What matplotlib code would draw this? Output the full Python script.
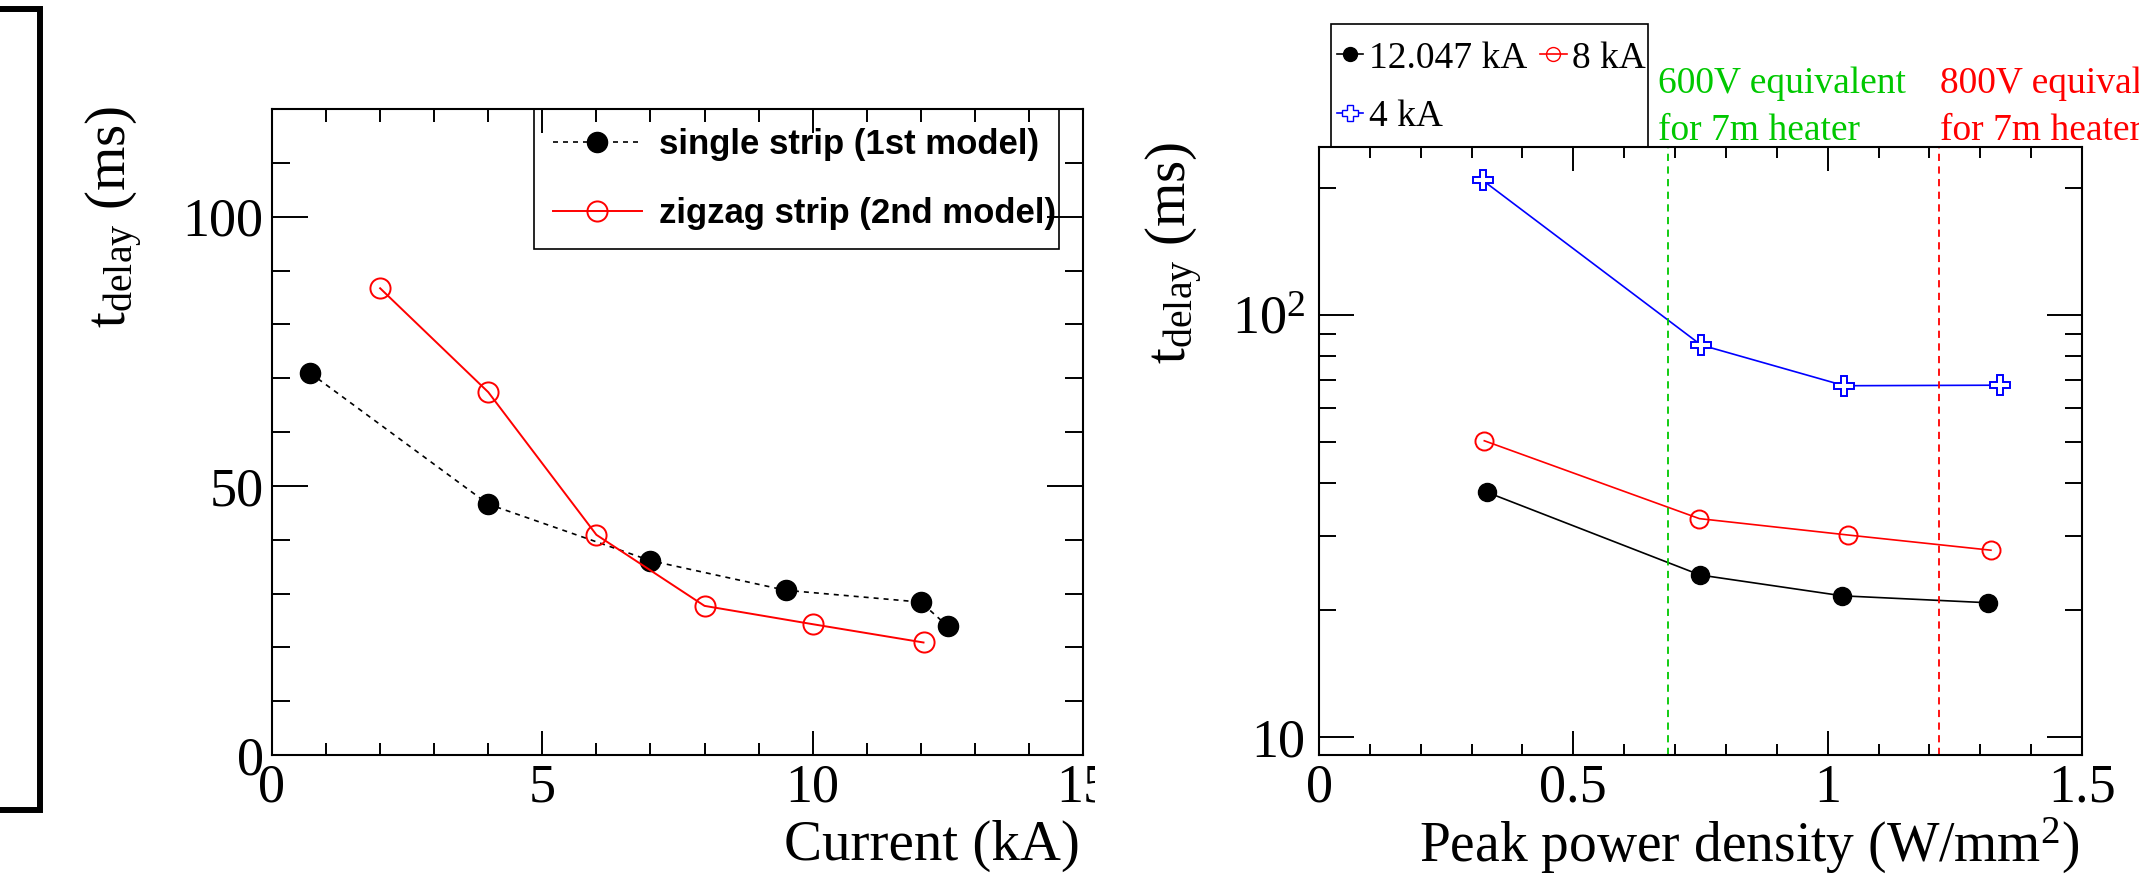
import numpy as np
import matplotlib
matplotlib.use("Agg")
import matplotlib.pyplot as plt
from matplotlib import font_manager
from matplotlib.lines import Line2D
from matplotlib.patches import Rectangle
from matplotlib.transforms import Bbox, TransformedBbox, blended_transform_factory
from matplotlib.ticker import FixedLocator, FixedFormatter, NullFormatter

# ---- data: delay time vs current (left pad) ----
single_I = [0.7, 4.0, 7.0, 9.5, 12.0, 12.5]
single_t = [71.0, 46.6, 36.1, 30.6, 28.4, 23.9]
zigzag_I = [2.0, 4.0, 6.0, 8.0, 10.0, 12.05]
zigzag_t = [86.7, 67.4, 40.9, 27.7, 24.3, 20.9]

# ---- data: delay time vs peak power density (right pad) ----
p_12kA = [0.330, 0.749, 1.029, 1.315]
t_12kA = [38.0, 24.2, 21.6, 20.8]
p_8kA = [0.325, 0.748, 1.039, 1.321]
t_8kA = [50.3, 32.9, 30.1, 27.7]
p_4kA = [0.322, 0.751, 1.033, 1.339]
t_4kA = [208.0, 84.8, 67.9, 68.1]
series_labels = ["12.047 kA", "8 kA", "4 kA"]

v600_density = 0.6855
v800_density = 1.2186

W, H = 2139, 876
SERIF = "Liberation Serif"
GREEN = "#00c800"
names = {f.name for f in font_manager.fontManager.ttflist}
if "Liberation Sans Narrow" in names:
    leg_font = dict(family="Liberation Sans Narrow", weight="bold", size=29)
else:
    leg_font = dict(family="Liberation Sans", weight="bold", size=25)

plt.rcParams["font.family"] = [SERIF, "DejaVu Serif"]
plt.rcParams["mathtext.fontset"] = "custom"
plt.rcParams["mathtext.rm"] = SERIF
plt.rcParams["mathtext.it"] = SERIF + ":italic"
plt.rcParams["axes.linewidth"] = 1.5


def px_axes(fig, x0, y0, x1, y1):
    # pixel box (top-left origin) -> figure axes
    return fig.add_axes([x0 / W, 1 - y1 / H, (x1 - x0) / W, (y1 - y0) / H])


def root_ticks(ax, pad):
    ax.tick_params(which="both", direction="in", top=True, right=True,
                   width=1.4, labelsize=39, pad=pad)


fig = plt.figure(figsize=(W / 100, H / 100), dpi=100)

# frame edge left over from the neighbouring pad
fig.add_artist(Line2D([0, 40 / W, 40 / W, 0], [1 - 9 / H, 1 - 9 / H, 1 - 810 / H, 1 - 810 / H],
                      transform=fig.transFigure, color="black", lw=4.3,
                      solid_joinstyle="miter"))

# ================= left pad =================
ax1 = px_axes(fig, 272, 109, 1083, 755)
ax1.plot(single_I, single_t, color="black", ls=(0, (3, 3)), lw=1.2,
         marker="o", ms=14.5, mfc="black", mec="black",
         label="single strip (1st model)")
ax1.plot(zigzag_I, zigzag_t, color="red", lw=1.4,
         marker="o", ms=14.5, mfc="none", mec="red", mew=1.4,
         label="zigzag strip (2nd model)")
ax1.set_xlim(0, 15)
ax1.set_ylim(0, 120)
ax1.xaxis.set_major_locator(FixedLocator([0, 5, 10, 15]))
ax1.xaxis.set_minor_locator(FixedLocator(np.arange(1, 15)))
ax1.yaxis.set_major_locator(FixedLocator([0, 50, 100]))
ax1.yaxis.set_minor_locator(FixedLocator(np.arange(10, 121, 10)))
root_ticks(ax1, 6)
ax1.tick_params(axis="y", which="major", length=26)
ax1.tick_params(axis="y", which="minor", length=13)
ax1.tick_params(axis="x", which="major", length=17)
ax1.tick_params(axis="x", which="minor", length=9)
ax1.set_xlabel("Current (kA)", fontsize=41, loc="right")
ax1.set_ylabel(r"t$_{\rm delay}$ (ms)", fontsize=41, loc="top")
ax1.xaxis.set_label_coords(0.996, -0.1)
ax1.yaxis.set_label_coords(-0.156, 1.005)

# the pad edge cuts the last x label
pad_clip = TransformedBbox(Bbox.from_extents(0, 0, 1095 / W, 1), fig.transFigure)
for t in ax1.xaxis.get_major_ticks():
    t.label1.set_clip_box(pad_clip)
    t.label1.set_clip_on(True)

leg1 = ax1.legend(loc="upper left", bbox_to_anchor=(553 / W, 1 - 128 / H),
                  bbox_transform=fig.transFigure, frameon=False, prop=leg_font,
                  handlelength=2.55, handletextpad=0.5, labelspacing=1.05,
                  borderpad=0, borderaxespad=0, numpoints=1)
fig.add_artist(Rectangle((534 / W, 1 - 249 / H), (1059 - 534) / W, (249 - 109) / H,
                         transform=fig.transFigure, fill=False, ec="black", lw=1.2))

# ================= right pad =================
ax2 = px_axes(fig, 1319, 147, 2082, 755)
ax2.set_yscale("log")
ax2.plot(p_12kA, t_12kA, color="black", lw=1.2, marker="o", ms=13,
         mfc="black", mec="black")
ax2.plot(p_8kA, t_8kA, color="red", lw=1.2, marker="o", ms=13,
         mfc="none", mec="red", mew=1.4)
ax2.plot(p_4kA, t_4kA, color="blue", lw=1.2, marker="P", ms=14,
         mfc="white", mec="blue", mew=1.4)
ax2.axvline(v600_density, color=GREEN, ls=(0, (4, 3)), lw=1.3)
ax2.axvline(v800_density, color="red", ls=(0, (4, 3)), lw=1.3)
ax2.set_xlim(0, 1.5)
ax2.set_ylim(9.07, 249.5)
ax2.xaxis.set_major_locator(FixedLocator([0, 0.5, 1.0, 1.5]))
ax2.xaxis.set_major_formatter(FixedFormatter(["0", "0.5", "1", "1.5"]))
ax2.xaxis.set_minor_locator(FixedLocator(np.arange(0.1, 1.5, 0.1)))
ax2.yaxis.set_major_locator(FixedLocator([10, 100]))
ax2.yaxis.set_major_formatter(FixedFormatter(["10", r"10$^{2}$"]))
ax2.yaxis.set_minor_locator(FixedLocator([20, 30, 40, 50, 60, 70, 80, 90, 200]))
ax2.yaxis.set_minor_formatter(NullFormatter())
root_ticks(ax2, 10)
ax2.tick_params(axis="x", pad=6)
ax2.tick_params(axis="y", which="major", length=25)
ax2.tick_params(axis="y", which="minor", length=12)
ax2.tick_params(axis="x", which="major", length=17)
ax2.tick_params(axis="x", which="minor", length=8)
ax2.set_xlabel(r"Peak power density (W/mm$^{2}$)", fontsize=40, loc="right")
ax2.set_ylabel(r"t$_{\rm delay}$ (ms)", fontsize=41, loc="top")
ax2.xaxis.set_label_coords(0.997, -0.1)
ax2.yaxis.set_label_coords(-0.15, 1.008)

# heater voltage annotations above the frame
tr = blended_transform_factory(ax2.transData, ax2.transAxes)
for x0, col, base in [(0.666, GREEN, "600V"), (1.2206, "red", "800V")]:
    ax2.text(x0, (755 - 93) / 608, base + " equivalent", color=col, fontsize=27,
             transform=tr, va="baseline", ha="left", clip_on=False)
    ax2.text(x0, (755 - 140) / 608, "for 7m heater", color=col, fontsize=27,
             transform=tr, va="baseline", ha="left", clip_on=False)

# legend entries with a short line through the marker
lh12 = Line2D([], [], color="black", lw=1.2, marker="o", ms=10, mfc="black", mec="black")
lh8 = Line2D([], [], color="red", lw=1.2, marker="o", ms=10, mfc="none", mec="red")
lh4 = Line2D([], [], color="blue", lw=1.2, marker="P", ms=11, mfc="white", mec="blue")
leg2 = ax2.legend([lh12, lh4, lh8], [series_labels[0], series_labels[2], series_labels[1]],
                  ncol=2, loc="upper left", bbox_to_anchor=(1337 / W, 1 - 41 / H),
                  bbox_transform=fig.transFigure, frameon=False, fontsize=27,
                  handlelength=0.7, handletextpad=0.15, columnspacing=0.35,
                  labelspacing=0.63, borderpad=0, borderaxespad=0, numpoints=1)
fig.add_artist(Rectangle((1331 / W, 1 - 147 / H), (1648 - 1331) / W, (147 - 24) / H,
                         transform=fig.transFigure, fill=False, ec="black", lw=1.2))

fig.savefig("out.png", dpi=100, facecolor="white")
